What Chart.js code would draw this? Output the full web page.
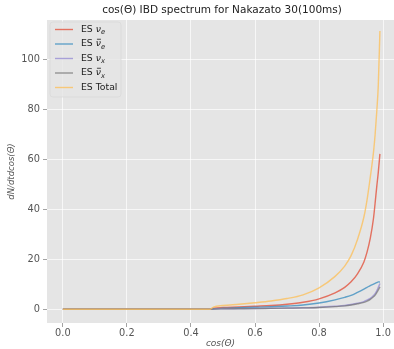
<!DOCTYPE html>
<html>
<head>
<meta charset="utf-8">
<script src="https://cdn.jsdelivr.net/npm/chart.js@4/dist/chart.umd.min.js"></script>
<style>
  html, body { margin: 0; padding: 0; background: #ffffff; overflow: hidden; }
  canvas { display: block; }
</style>
</head>
<body>
<canvas id="c" width="394" height="349"></canvas>
<script>
// cos(theta) grid and spectra per flavour
const cosTheta = [0, 0.1, 0.2, 0.3, 0.4, 0.46, 0.47, 0.5, 0.55, 0.6, 0.65, 0.7, 0.75, 0.8, 0.85, 0.88, 0.9, 0.92, 0.94, 0.95, 0.96, 0.97, 0.975, 0.98, 0.985, 0.99];
const esNue     = [0, 0, 0, 0, 0, 0, 0.4, 0.7, 0.9, 1.2, 1.5, 2.0, 2.8, 4.2, 6.6, 8.8, 11.0, 14.2, 19.0, 23.0, 28.5, 36.5, 42.5, 49.0, 55.0, 62.3];
const esNuebar  = [0, 0, 0, 0, 0, 0, 0.2, 0.4, 0.6, 0.8, 1.0, 1.3, 1.7, 2.5, 3.8, 4.8, 5.6, 6.8, 8.1, 8.8, 9.5, 10.1, 10.4, 10.7, 11.0, 10.9];
const esNux     = [0, 0, 0, 0, 0, 0, 0.1, 0.2, 0.25, 0.3, 0.4, 0.5, 0.6, 0.8, 1.2, 1.5, 1.9, 2.4, 3.1, 3.7, 4.4, 5.5, 6.3, 7.4, 8.8, 10.3];
const esNuxbar  = [0, 0, 0, 0, 0, 0, 0.1, 0.15, 0.2, 0.25, 0.35, 0.45, 0.55, 0.7, 1.05, 1.35, 1.7, 2.2, 2.8, 3.3, 4.0, 5.0, 5.7, 6.7, 7.8, 9.0];
const esTotal   = [0, 0, 0, 0, 0, 0, 0.9, 1.5, 2.0, 2.6, 3.3, 4.3, 5.8, 8.6, 13.2, 17.3, 21.5, 28, 37, 44, 53, 63, 70, 79, 90, 111.6];

const xTicks = [0, 0.2, 0.4, 0.6, 0.8, 1.0];
const yTicks = [0, 20, 40, 60, 80, 100];

// legend entries: [plain prefix, greek symbol, bar?, subscript]
const legendParts = [
  ['ES ', 'ν', false, 'e'],
  ['ES ', 'ν', true, 'e'],
  ['ES ', 'ν', false, 'x'],
  ['ES ', 'ν', true, 'x'],
  ['ES Total', '', false, '']
];
const seriesLabels = ['ES νe', 'ES ν̄e', 'ES νx', 'ES ν̄x', 'ES Total'];
const seriesValues = [esNue, esNuebar, esNux, esNuxbar, esTotal];
const seriesColors = ['rgba(226,74,51,0.75)', 'rgba(52,138,189,0.75)', 'rgba(152,142,213,0.8)', 'rgba(119,119,119,0.75)', 'rgba(251,193,94,0.8)'];

const FONT = 'DejaVu Sans';

const panelBg = {
  id: 'panelBg',
  beforeDraw(chart) {
    const {ctx, chartArea: a} = chart;
    ctx.save();
    ctx.fillStyle = '#E5E5E5';
    ctx.fillRect(a.left, a.top, a.right - a.left, a.bottom - a.top);
    ctx.restore();
  }
};

const headerText = {
  id: 'headerText',
  afterDraw(chart) {
    const {ctx} = chart;
    ctx.save();
    ctx.fillStyle = '#222';
    ctx.font = `10.5px "${FONT}"`;
    ctx.textAlign = 'center';
    ctx.textBaseline = 'middle';
    ctx.fillText('cos(Θ) IBD spectrum for Nakazato 30(100ms)', 222, 10.5);
    ctx.restore();
  }
};

const insetLegend = {
  id: 'insetLegend',
  afterDatasetsDraw(chart) {
    const {ctx, chartArea: a} = chart;
    const x0 = a.left + 3, y0 = a.top + 2, w = 71, h = 75;
    ctx.save();
    ctx.beginPath();
    ctx.roundRect(x0, y0, w, h, 3);
    ctx.fillStyle = 'rgba(229,229,229,0.8)';
    ctx.fill();
    ctx.strokeStyle = 'rgba(214,214,214,0.8)';
    ctx.lineWidth = 0.8;
    ctx.stroke();
    const rowH = 14.5;
    chart.data.datasets.forEach((ds, i) => {
      const y = y0 + 7.5 + i * rowH;
      ctx.strokeStyle = ds.borderColor;
      ctx.lineWidth = 1.4;
      ctx.beginPath();
      ctx.moveTo(x0 + 5, y);
      ctx.lineTo(x0 + 23, y);
      ctx.stroke();
      const [pre, sym, bar, sub] = legendParts[i];
      let tx = x0 + 31;
      ctx.fillStyle = '#222';
      ctx.textBaseline = 'middle';
      ctx.textAlign = 'left';
      ctx.font = `9.3px "${FONT}"`;
      ctx.fillText(pre, tx, y);
      tx += ctx.measureText(pre).width;
      if (sym) {
        ctx.font = `italic 9.3px "${FONT}"`;
        ctx.fillText(sym, tx, y);
        const sw = ctx.measureText(sym).width;
        if (bar) {
          ctx.fillRect(tx + 1.2, y - 5.2, sw - 1.2, 0.8);
        }
        tx += sw;
        ctx.font = `italic 6.8px "${FONT}"`;
        ctx.fillText(sub, tx, y + 2.8);
      }
    });
    ctx.restore();
  }
};

const datasets = seriesValues.map((vals, i) => ({
  label: seriesLabels[i],
  data: cosTheta.map((c, k) => ({x: c, y: vals[k]})),
  borderColor: seriesColors[i],
  backgroundColor: seriesColors[i],
  borderWidth: 1.4,
  pointRadius: 0,
  cubicInterpolationMode: 'monotone',
  fill: false,
  order: 5 - i
}));

new Chart(document.getElementById('c'), {
  type: 'line',
  data: { datasets },
  plugins: [panelBg, insetLegend, headerText],
  options: {
    responsive: false,
    animation: false,
    devicePixelRatio: 1,
    layout: { padding: { top: 20, left: 0, right: 0, bottom: 0 } },
    plugins: { legend: { display: false }, tooltip: { enabled: false }, title: { display: false } },
    scales: {
      x: {
        type: 'linear',
        min: -0.0495,
        max: 1.034,
        afterBuildTicks(scale) { scale.ticks = xTicks.map(v => ({value: v})); },
        afterFit(scale) { scale.height = 26; },
        border: { display: false },
        grid: { color: 'rgba(255,255,255,0.75)', lineWidth: 0.9, tickLength: 4, tickColor: '#999', drawTicks: true },
        ticks: {
          color: '#555',
          font: { family: FONT, size: 9.8 },
          padding: 1,
          maxRotation: 0,
          callback: v => v.toFixed(1)
        },
        title: {
          display: true,
          text: 'cos(Θ)',
          color: '#555',
          font: { family: FONT, size: 9, style: 'italic' },
          padding: { top: 0, bottom: 0 }
        }
      },
      y: {
        type: 'linear',
        min: -5.5,
        max: 116,
        afterBuildTicks(scale) { scale.ticks = yTicks.map(v => ({value: v})); },
        afterFit(scale) { scale.width = 47; },
        border: { display: false },
        grid: { color: 'rgba(255,255,255,0.75)', lineWidth: 0.9, tickLength: 4, tickColor: '#999', drawTicks: true },
        ticks: {
          color: '#555',
          font: { family: FONT, size: 9.8 },
          padding: 3,
          callback: v => String(v)
        },
        title: {
          display: true,
          text: 'dN/dtdcos(Θ)',
          color: '#555',
          font: { family: FONT, size: 8.5, style: 'italic' },
          padding: { top: 7, bottom: 0 }
        }
      }
    }
  }
});
</script>
</body>
</html>
